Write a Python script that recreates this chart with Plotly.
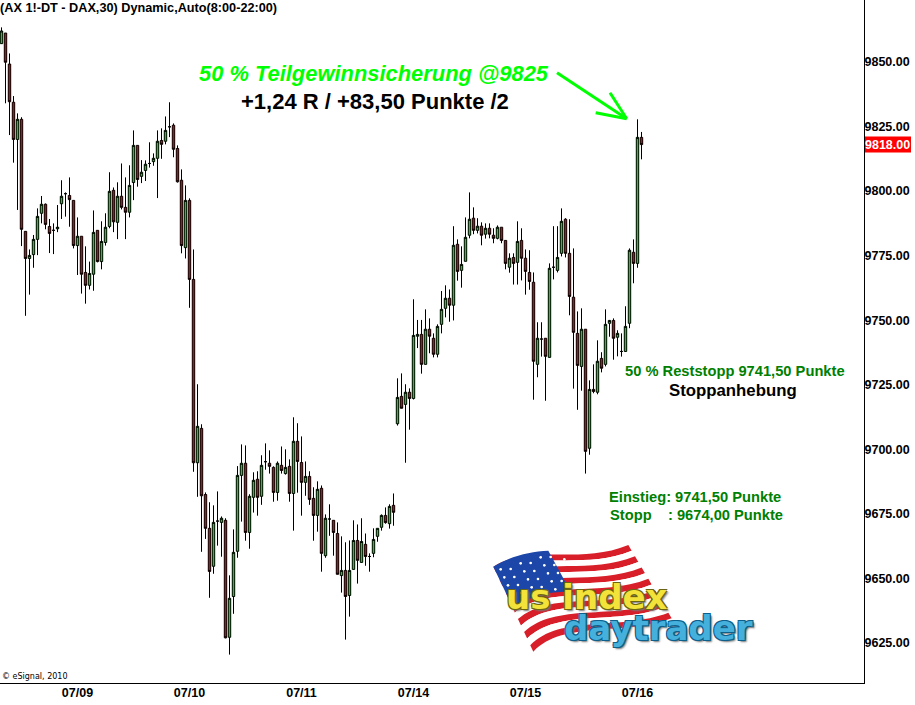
import plotly.graph_objects as go

# Candle values, in index points (oldest first)
highs = [9863.4,9861.2,9853.3,9836.8,9830.1,9828.6,9784.4,9777.4,9783.0,9793.3,9798.1,9795.2,9789.2,9787.5,9794.6,9804.2,9799.5,9805.3,9796.4,9789.8,
9782.5,9778.6,9772.7,9792.5,9784.8,9788.3,9791.4,9807.3,9801.4,9803.4,9810.7,9805.3,9810.0,9823.5,9817.7,9812.0,9811.9,9818.9,9814.6,9823.5,
9824.3,9828.9,9834.4,9826.2,9817.7,9808.4,9802.2,9797.2,9777.4,9725.2,9709.7,9683.3,9679.5,9678.3,9683.7,9674.0,9673.3,9651.2,9669.0,9693.5,
9701.9,9701.5,9682.6,9691.1,9691.5,9697.7,9702.3,9699.6,9693.4,9695.3,9701.1,9700.0,9696.1,9712.4,9710.1,9705.0,9695.3,9691.5,9685.3,9687.6,
9686.0,9674.8,9678.7,9672.5,9671.7,9666.3,9664.0,9664.7,9672.5,9670.9,9673.3,9667.4,9659.7,9669.4,9669.4,9674.8,9677.5,9678.7,9682.9,9727.5,
9729.4,9725.2,9723.6,9758.1,9750.1,9750.1,9754.2,9750.7,9744.9,9748.4,9761.3,9763.5,9761.9,9786.4,9781.3,9778.6,9789.8,9799.5,9793.7,9789.5,
9787.9,9787.5,9787.5,9785.6,9786.7,9786.0,9780.9,9775.9,9775.9,9788.3,9785.6,9777.4,9777.1,9768.5,9749.2,9749.2,9743.0,9772.0,9786.4,9786.4,
9793.3,9789.5,9789.1,9777.8,9753.4,9754.6,9746.5,9726.7,9732.9,9742.2,9737.6,9754.2,9750.1,9750.7,9746.1,9744.9,9755.4,9777.8,9781.3,9827.8,9822.9]
body_tops = [9862.0,9861.2,9849.2,9834.4,9827.8,9827.8,9784.4,9775.1,9781.3,9790.2,9794.9,9794.9,9786.3,9784.8,9786.0,9798.0,9799.0,9798.3,9796.4,9782.5,
9782.5,9768.5,9768.1,9784.0,9784.8,9780.5,9786.0,9799.9,9800.3,9798.0,9798.0,9793.7,9802.2,9817.7,9817.7,9807.3,9810.4,9810.7,9812.7,9819.3,
9819.6,9823.5,9824.9,9825.5,9816.5,9804.2,9796.4,9796.4,9765.8,9708.9,9708.1,9682.5,9669.4,9671.7,9672.2,9673.3,9672.5,9642.3,9660.1,9689.9,
9694.6,9694.6,9681.8,9688.0,9688.4,9693.8,9695.2,9694.6,9693.0,9694.6,9693.8,9693.0,9693.4,9703.1,9703.1,9694.9,9689.5,9689.5,9681.0,9684.5,
9684.9,9673.3,9673.0,9672.5,9667.4,9653.1,9653.1,9653.1,9664.7,9664.7,9664.3,9663.2,9658.5,9665.1,9669.4,9674.4,9674.4,9677.9,9678.3,9720.1,
9720.5,9722.1,9722.1,9744.1,9744.5,9744.5,9746.5,9746.5,9743.0,9747.6,9754.2,9758.5,9758.5,9779.0,9779.4,9771.6,9782.1,9789.1,9789.5,9786.4,
9786.4,9785.6,9785.6,9782.9,9786.0,9786.0,9780.9,9774.0,9774.3,9780.5,9780.9,9774.0,9768.5,9764.7,9743.0,9742.7,9743.0,9770.1,9770.5,9774.3,
9788.3,9789.1,9775.9,9758.9,9744.9,9746.5,9746.5,9723.2,9723.2,9734.1,9735.2,9748.4,9749.9,9749.9,9744.9,9737.9,9747.6,9777.1,9776.3,9820.8,9820.8]
body_bottoms = [9857.1,9849.9,9834.6,9820.0,9820.0,9785.2,9773.9,9773.9,9775.4,9781.3,9791.4,9787.1,9783.6,9784.8,9785.4,9795.1,9799.0,9796.7,9778.9,9778.9,
9767.8,9763.5,9763.5,9767.8,9772.7,9772.7,9780.1,9786.3,9788.1,9787.9,9793.7,9791.8,9791.8,9803.3,9804.5,9805.7,9808.0,9810.7,9811.4,9812.7,
9818.1,9819.3,9824.9,9816.2,9803.6,9778.9,9778.1,9765.8,9694.8,9694.8,9682.0,9669.4,9652.7,9654.7,9672.2,9671.7,9627.0,9627.2,9643.0,9660.5,
9689.9,9667.8,9667.8,9681.4,9681.4,9681.8,9695.2,9693.4,9683.3,9683.3,9691.8,9690.6,9682.9,9682.9,9695.3,9687.2,9687.2,9680.6,9674.4,9674.4,
9659.7,9658.8,9673.0,9667.8,9651.6,9651.1,9643.0,9643.4,9653.5,9657.0,9656.2,9658.5,9658.5,9659.7,9666.3,9669.8,9671.6,9671.2,9675.6,9709.9,
9715.9,9717.4,9719.7,9719.7,9743.8,9732.9,9732.9,9743.8,9736.8,9736.8,9748.4,9754.6,9755.8,9755.8,9768.9,9769.3,9772.8,9782.9,9784.8,9784.8,
9782.9,9783.3,9783.3,9781.7,9781.7,9780.9,9772.0,9770.5,9772.0,9772.4,9774.0,9768.9,9765.0,9734.1,9732.9,9742.7,9736.0,9735.6,9770.5,9769.3,
9775.9,9775.9,9759.2,9745.3,9732.5,9732.1,9699.2,9700.4,9722.4,9722.1,9731.4,9732.9,9748.8,9743.0,9743.4,9737.9,9737.9,9748.8,9772.0,9772.0,9818.0]
lows = [9857.1,9834.0,9821.7,9811.0,9792.7,9778.7,9751.7,9759.9,9770.3,9775.2,9787.5,9785.2,9776.0,9775.6,9784.1,9789.2,9790.1,9786.2,9777.8,9767.5,
9760.3,9756.4,9761.9,9761.4,9772.4,9769.7,9778.9,9785.6,9784.1,9781.4,9792.9,9781.4,9789.8,9796.5,9801.7,9803.1,9803.9,9809.1,9809.8,9797.3,
9812.5,9818.1,9820.9,9813.1,9803.3,9775.9,9773.9,9754.8,9691.3,9681.6,9660.3,9665.3,9642.5,9651.8,9662.7,9658.4,9626.8,9620.5,9636.3,9658.0,
9672.0,9664.6,9661.5,9675.5,9674.3,9678.5,9692.1,9690.6,9679.7,9680.1,9690.6,9690.2,9679.7,9668.5,9683.2,9674.3,9682.0,9678.5,9664.6,9668.1,
9652.6,9658.0,9666.5,9658.8,9651.6,9644.5,9626.3,9635.2,9653.5,9648.0,9656.2,9654.9,9652.6,9658.2,9664.2,9668.5,9671.2,9669.3,9670.4,9709.2,
9715.9,9694.8,9707.6,9719.3,9739.2,9729.3,9732.9,9737.2,9735.6,9735.6,9744.9,9751.1,9749.4,9749.9,9765.3,9762.6,9772.8,9781.7,9783.3,9783.6,
9779.0,9781.6,9781.7,9779.8,9781.3,9779.8,9769.7,9768.4,9763.8,9763.8,9765.4,9759.9,9761.8,9719.2,9727.9,9735.9,9718.8,9735.6,9765.8,9768.5,
9774.7,9774.3,9751.9,9723.5,9715.3,9722.7,9690.6,9697.9,9721.7,9721.3,9729.8,9732.1,9743.6,9734.7,9736.0,9735.9,9737.9,9746.9,9764.3,9770.3,9812.3]
# bar numbers of the candles that closed above their open
rising = [0,4,7,8,9,10,14,15,16,19,22,23,25,26,27,29,32,33,35,36,37,38,39,41,42,46,
          49,53,54,55,57,58,59,60,62,63,65,66,69,71,73,76,79,81,82,85,87,88,90,92,93,94,95,97,
          99,101,103,104,106,109,110,111,113,115,116,117,119,121,124,127,129,134,135,137,138,139,140,145,147,149,151,152,154,155,156,157,159]

bar_numbers = list(range(len(highs)))
opens = [body_bottoms[i] if i in rising else body_tops[i] for i in bar_numbers]
closes = [body_tops[i] if i in rising else body_bottoms[i] for i in bar_numbers]

date_positions = [19, 47, 75, 103, 131, 159]
date_labels = ["07/09", "07/10", "07/11", "07/14", "07/15", "07/16"]
price_ticks = [9625, 9650, 9675, 9700, 9725, 9750, 9775, 9800, 9825, 9850]
last_price = 9818.00

PW, PH = 864.0, 683.0
def X(p): return p / PW
def Y(p): return 1 - p / PH
# logo artwork coordinates are given in the 3x zoom frame of the logo
def LX(z): return X(480 + z / 3)
def LY(z): return Y(530 + z / 3)

fig = go.Figure(go.Candlestick(
    x=bar_numbers, open=opens, high=highs, low=lows, close=closes,
    increasing=dict(line=dict(color="#000000", width=1), fillcolor="#00e000"),
    decreasing=dict(line=dict(color="#000000", width=1), fillcolor="#e00000"),
    whiskerwidth=0, hoverinfo="skip", showlegend=False,
))

shapes = []
def seg(x0, y0, x1, y1, color="#00ff00", w=3):
    shapes.append(dict(type="line", xref="paper", yref="paper",
                       x0=X(x0), y0=Y(y0), x1=X(x1), y1=Y(y1), line=dict(color=color, width=w)))
seg(557, 72.7, 626.7, 118.7)
seg(610, 92.7, 626.7, 118.7)
seg(595.7, 112.7, 626.7, 118.7)

# last price tag
shapes.append(dict(type="rect", xref="paper", yref="y", x0=X(865), x1=X(911),
                   y0=last_price - 3.1, y1=last_price + 3.1, fillcolor="#ff0000", line=dict(width=0)))

# flag (logo artwork)
def lerp(a, b, t): return (a[0] + (b[0] - a[0]) * t, a[1] + (b[1] - a[1]) * t)
TL, TR, BL, BR = (40, 110), (445, 45), (160, 365), (575, 265)
C1a, C2a, C1b, C2b = (150, 40), (300, 105), (250, 270), (430, 320)
def P(p): return f"{LX(p[0]):.5f},{LY(p[1]):.5f}"
def band(t0, t1, color):
    a0, a1, a2, a3 = lerp(TL, BL, t0), lerp(C1a, C1b, t0), lerp(C2a, C2b, t0), lerp(TR, BR, t0)
    b0, b1, b2, b3 = lerp(TL, BL, t1), lerp(C1a, C1b, t1), lerp(C2a, C2b, t1), lerp(TR, BR, t1)
    path = f"M {P(a0)} C {P(a1)} {P(a2)} {P(a3)} L {P(b3)} C {P(b2)} {P(b1)} {P(b0)} Z"
    shapes.append(dict(type="path", xref="paper", yref="paper", path=path,
                       fillcolor=color, line=dict(width=0)))
for k in range(13):
    band(k / 13, (k + 1) / 13, "#d81e28" if k % 2 == 0 else "#ffffff")
shapes.append(dict(type="path", xref="paper", yref="paper",
                   path=f"M {P((40,110))} C {P((100,75))} {P((150,65))} {P((205,62))} L {P((272,185))} C {P((220,185))} {P((160,190))} {P((100,235))} Z",
                   fillcolor="#1c46a8", line=dict(width=0)))
for r in range(5):
    for c in range(7):
        zx = 62 + c * 30 + r * 11
        zy = 118 - c * 9 + r * 24 + (c % 2) * 8
        if zx < 255 and zy < 195:
            shapes.append(dict(type="circle", xref="paper", yref="paper",
                               x0=LX(zx - 4), x1=LX(zx + 4), y0=LY(zy - 4), y1=LY(zy + 4),
                               fillcolor="#ffffff", line=dict(width=0)))

FONT = "Liberation Sans"
def note(text, x, y, size, color="#000000", bold=True, italic=False, family=FONT, anchor="left", **kw):
    font = dict(family=family, size=size, color=color, weight=700 if bold else 400,
                style="italic" if italic else "normal")
    font.update(kw.pop("font_extra", {}))
    return dict(text=text, xref="paper", yref="paper", x=X(x), y=Y(y), xanchor=anchor, yanchor="middle",
                showarrow=False, font=font, **kw)

def outline(c):
    return f"1px 1px 0 {c},-1px -1px 0 {c},1px -1px 0 {c},-1px 1px 0 {c},2px 2px 2px #777777"

annotations = [
    note("(AX 1!-DT - DAX,30) Dynamic,Auto(8:00-22:00)", -2, 8, 12.7),
    note("50 % Teilgewinnsicherung @9825", 197, 73, 21.9, color="#00ff00", italic=True),
    note("+1,24 R / +83,50 Punkte /2", 239, 101, 22),
    note("50 % Reststopp 9741,50 Punkte", 623, 371, 14.7, color="#008000"),
    note("Stoppanhebung", 667, 390, 16.8),
    note("Einstieg: 9741,50 Punkte", 607, 497, 14.7, color="#008000"),
    note("Stopp\u00a0\u00a0\u00a0\u00a0: 9674,00 Punkte", 608, 515, 14.7, color="#008000"),
    note("\u00a9 eSignal, 2010", 0, 676, 8, bold=False, family="DejaVu Sans"),
    note("us index", 587, 597, 34, color="#f2e23a", family="DejaVu Sans", anchor="center",
         font_extra=dict(shadow=outline("#6b6410"))),
    note("daytrader", 658, 628, 34, color="#45b0dc", family="DejaVu Sans", anchor="center",
         font_extra=dict(shadow=outline("#0d5f8c"))),
    dict(text="9818.00", xref="paper", yref="y", x=X(863), y=last_price, xanchor="left", yanchor="middle",
         showarrow=False, font=dict(family=FONT, size=12.5, color="#ffffff", weight=700)),
]

fig.update_layout(
    width=915, height=705, autosize=False,
    margin=dict(l=0, r=51, t=0, b=22, pad=0),
    paper_bgcolor="#ffffff", plot_bgcolor="#ffffff",
    boxgap=0.4, boxgroupgap=0,
    shapes=shapes, annotations=annotations, showlegend=False,
    xaxis=dict(range=[-0.375, 215.625], tickvals=date_positions, ticktext=date_labels,
               showgrid=False, zeroline=False, rangeslider=dict(visible=False), ticks="",
               showline=True, linecolor="#000000", linewidth=1, ticklabelstandoff=-2,
               tickfont=dict(family=FONT, size=12.5, color="#000000", weight=700)),
    yaxis=dict(side="right", range=[9609.5, 9874.0], tickvals=price_ticks,
               ticktext=[f"{v:.2f}" for v in price_ticks],
               showgrid=False, zeroline=False, ticks="", ticklabelstandoff=-3,
               showline=True, linecolor="#000000", linewidth=1,
               tickfont=dict(family=FONT, size=12.5, color="#000000", weight=700)),
)
fig.write_html("out.html", config=dict(displayModeBar=False),
               post_script="document.body.style.margin='0';")
